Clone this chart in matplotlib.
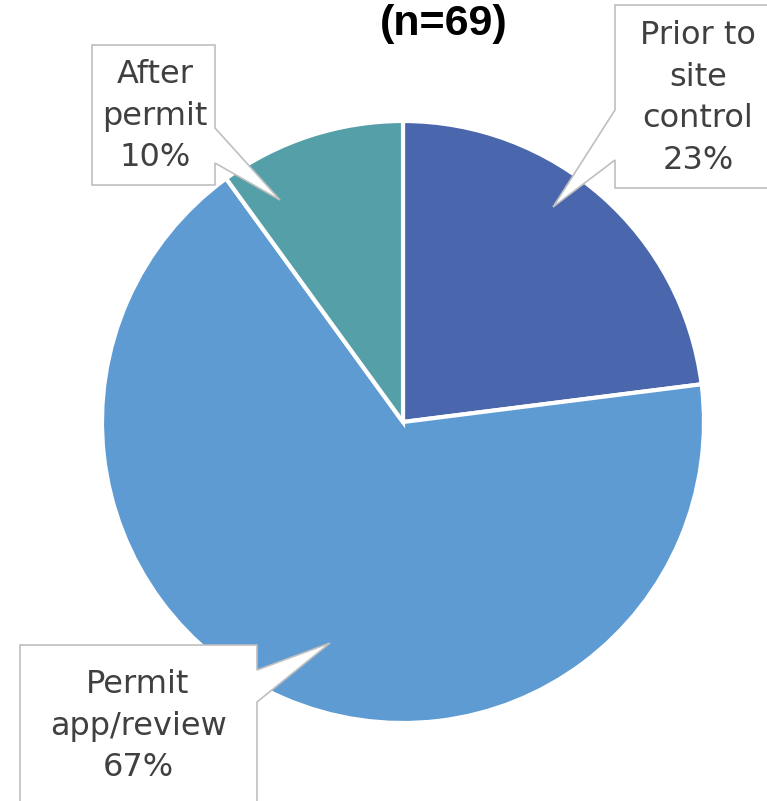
import matplotlib
matplotlib.use("Agg")
import matplotlib.pyplot as plt
from matplotlib.patches import Polygon

W, H = 767, 801

# data
labels  = ["Prior to\nsite\ncontrol", "Permit\napp/review", "After\npermit"]
shares  = [23, 67, 10]
colours = ["#4A66AC", "#5E9BD3", "#55A0A8"]
title   = "(n=69)"

# callout layout in pixel coords (box l/r/t/b, notch side + y range, pointer tip, text centre)
CALLOUTS = [
    dict(box=(615, 800, 5, 188), side="left", notch=(110, 160), tip=(553, 207), text=(698, 98)),
    dict(box=(20, 257, 645, 820), side="right", notch=(670, 702), tip=(330, 643), text=(138, 726)),
    dict(box=(92, 215, 45, 185), side="right", notch=(128, 163), tip=(280, 200), text=(155, 116)),
]


def py(y):
    return H - y


def callout_poly(box, side, notch, tip):
    l, r, t, b = box
    n0, n1 = notch
    if side == "left":
        pts = [(l, t), (r, t), (r, b), (l, b), (l, n1), tip, (l, n0)]
    else:
        pts = [(l, t), (r, t), (r, n0), tip, (r, n1), (r, b), (l, b)]
    return [(x, py(y)) for x, y in pts]


fig = plt.figure(figsize=(W / 100, H / 100), dpi=100)
ax = fig.add_axes([0, 0, 1, 1])

ax.pie(shares, colors=colours, startangle=90, counterclock=False,
       center=(403, py(422)), radius=301,
       wedgeprops=dict(edgecolor="white", linewidth=3))

for lab, pct, c in zip(labels, shares, CALLOUTS):
    ax.add_patch(Polygon(callout_poly(c["box"], c["side"], c["notch"], c["tip"]),
                         closed=True, facecolor="white", edgecolor="#BFBFBF",
                         linewidth=1.2, zorder=5))
    tx, ty = c["text"]
    ax.text(tx, py(ty), f"{lab}\n{pct}%", ha="center", va="center",
            fontsize=23, color="#404040", linespacing=1.45, zorder=6,
            family="DejaVu Sans")

# title sits right at the top edge as in the source image
ax.text(444, py(35), title, ha="center", va="baseline", fontsize=31,
        fontweight="bold", color="black", family="Liberation Sans")

ax.set_xlim(0, W)
ax.set_ylim(0, H)
ax.set_aspect("auto")
ax.axis("off")

fig.savefig("out.png", dpi=100)
